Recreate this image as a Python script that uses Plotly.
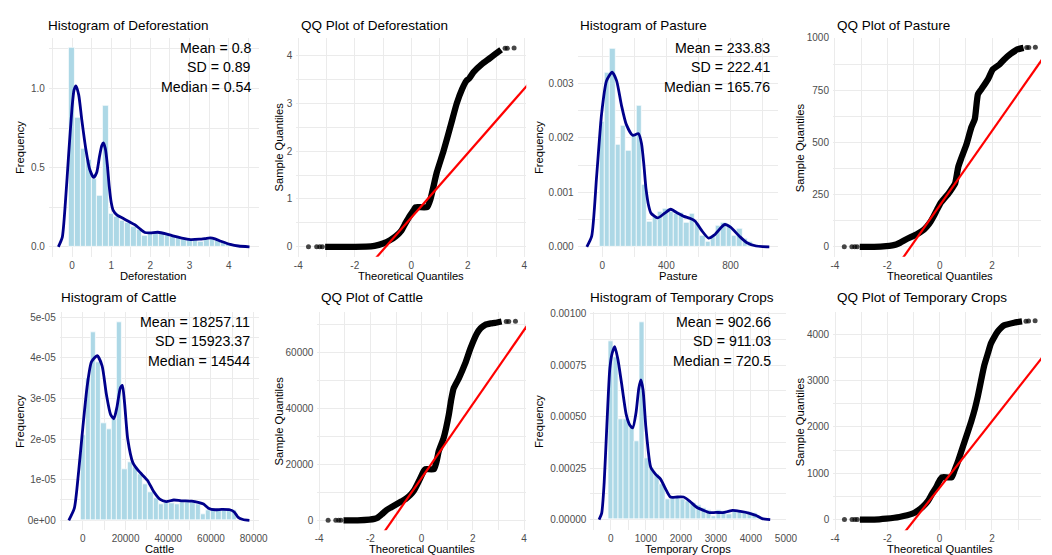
import numpy as np
import plotly.graph_objects as go

W, H = 1052, 555
FONT = "Liberation Sans, Arial, Helvetica, sans-serif"

# ---------------- data ----------------
variables = ["Deforestation", "Pasture", "Cattle", "Temporary Crops"]
stat_mean = ["0.8", "233.83", "18257.11", "902.66"]
stat_sd = ["0.89", "222.41", "15923.37", "911.03"]
stat_median = ["0.54", "165.76", "14544", "720.5"]

# histogram densities (30 bins, first bin centred on the minimum)
defo_bin_width = 0.143
defo_hist = [1.257, 0.818, 0.62, 0.55, 0.43, 0.32, 0.89, 0.21, 0.19, 0.165,
             0.15, 0.13, 0.11, 0.07, 0.09, 0.09, 0.085, 0.075, 0.065, 0.055,
             0.045, 0.045, 0.045, 0.03, 0.045, 0.06, 0.04, 0.03, 0.02, 0.01]
defo_dens_x = [-0.35, -0.25, -0.17, -0.085, 0.0, 0.05, 0.1, 0.17, 0.25, 0.35, 0.45,
               0.55, 0.63, 0.7, 0.76, 0.8, 0.85, 0.9, 0.95, 1.0, 1.05, 1.15, 1.3,
               1.45, 1.6, 1.75, 1.86, 2.0, 2.19, 2.4, 2.6, 2.8, 3.02, 3.25, 3.4,
               3.53, 3.65, 3.8, 4.04, 4.25, 4.53]
defo_dens_y = [0.0, 0.06, 0.28, 0.59, 0.88, 0.99, 1.017, 0.96, 0.8, 0.62, 0.49,
               0.438, 0.47, 0.57, 0.64, 0.656, 0.62, 0.52, 0.38, 0.28, 0.23, 0.2,
               0.18, 0.16, 0.14, 0.11, 0.09, 0.088, 0.092, 0.082, 0.067, 0.055,
               0.046, 0.048, 0.052, 0.056, 0.05, 0.035, 0.015, 0.005, 0.0]

past_bin_width = 32.93
past_hist = [0.0023, 0.0032, 0.00365, 0.00188, 0.00222, 0.00177, 0.00205, 0.0026,
             0.00115, 0.00047, 0.00055, 0.00065, 0.0007, 0.00065, 0.0006, 0.00062,
             0.00045, 0.0006, 0.00042, 0.0002, 0.0001, 0.0002, 0.00038, 0.00045,
             0.0004, 0.0002, 0.00033, 0.00015, 0.0001, 0.00004]
past_dens_x = [-96, -66, -35, -4, 27, 62, 90, 120, 150, 190, 226, 245, 260, 273, 290,
               304, 345, 390, 427, 470, 509, 550, 580, 620, 663, 700, 740, 765, 800,
               857, 900, 960, 1000, 1042]
past_dens_y = [0.0, 0.00019, 0.00129, 0.00244, 0.00305, 0.00321, 0.00305, 0.0026,
               0.00225, 0.00205, 0.00208, 0.0019, 0.0015, 0.00107, 0.00075, 0.00062,
               0.00053, 0.00062, 0.00069, 0.00062, 0.00056, 0.00052, 0.00047, 0.0003,
               0.00016, 0.00022, 0.00035, 0.00041, 0.00036, 0.00019, 0.00008,
               0.000015, 0.000003, 0.0]

catt_bin_width = 2448
catt_hist = [2.1e-05, 3.5e-05, 4.63e-05, 3.9e-05, 2.4e-05, 2.24e-05, 2.5e-05, 4.88e-05,
             1.26e-05, 1.42e-05, 1.3e-05, 1.14e-05, 0.9e-05, 0.7e-05, 0.55e-05, 0.4e-05,
             0.45e-05, 0.42e-05, 0.4e-05, 0.44e-05, 0.44e-05, 0.44e-05, 0.4e-05,
             0.16e-05, 0.26e-05, 0.26e-05, 0.26e-05, 0.26e-05, 0.26e-05, 0.26e-05]
catt_dens_x = [-6600, -4000, -2000, 0, 2000, 4000, 6700, 9000, 11000, 13000, 14500,
               16000, 17500, 18500, 19500, 21000, 23400, 26000, 30300, 33000, 36000,
               39000, 42600, 46000, 51000, 54000, 56500, 58800, 62000, 65000, 68800,
               71000, 72600, 75000, 78000]
catt_dens_y = [0.0, 0.3e-05, 1.2e-05, 2.3e-05, 3.3e-05, 3.9e-05, 4.05e-05, 3.8e-05,
               3.1e-05, 2.6e-05, 2.5e-05, 2.8e-05, 3.25e-05, 3.32e-05, 2.9e-05, 2.0e-05,
               1.42e-05, 1.22e-05, 0.98e-05, 0.72e-05, 0.52e-05, 0.46e-05, 0.5e-05,
               0.48e-05, 0.47e-05, 0.44e-05, 0.4e-05, 0.3e-05, 0.26e-05, 0.27e-05,
               0.26e-05, 0.2e-05, 0.08e-05, 0.02e-05, 0.0]

temp_bin_width = 147.2
temp_hist = [0.000867, 0.00079, 0.00049, 0.00049, 0.00045, 0.00038, 0.00096, 0.0003,
             0.00025, 0.00022, 0.00017, 0.0001, 0.00011, 0.00011, 0.0001, 0.00009,
             0.00008, 0.00007, 0.000055, 0.000045, 0.000016, 0.000045, 0.00004,
             0.000025, 0.000045, 0.00004, 0.00004, 0.000035, 0.00003, 0.00001]
temp_dens_x = [-336, -262, -190, -121, -28, 40, 112, 200, 300, 440, 540, 626, 720,
               800, 860, 920, 1000, 1140, 1280, 1420, 1560, 1700, 1900, 2075, 2250,
               2450, 2650, 2820, 3000, 3200, 3350, 3480, 3700, 3940, 4150, 4320, 4550]
temp_dens_y = [0.0, 0.00003, 0.00018, 0.00043, 0.000735, 0.00081, 0.00084, 0.00078,
               0.00067, 0.00051, 0.00046, 0.000446, 0.00052, 0.00064, 0.000679,
               0.00063, 0.00045, 0.000254, 0.00022, 0.000197, 0.00015, 0.00011,
               0.00011, 0.00011, 0.00009, 0.00006, 0.000045, 0.000034, 0.000035,
               0.000034, 0.00004, 0.000045, 0.00004, 0.000032, 0.00002, 0.000005, 0.0]

# QQ plots: dense body, sparse tail points, qqline (intercept, slope)
defo_qq_x = [-3.05, -2.5, -2.0, -1.6, -1.3, -1.0, -0.75, -0.55, -0.35, -0.2, -0.05,
             0.09, 0.15, 0.56, 0.68, 0.9, 1.14, 1.4, 1.61, 1.8, 1.95, 2.05, 2.2, 2.5,
             2.75, 2.95, 3.18]
defo_qq_y = [0.0, 0.0, 0.0, 0.003, 0.02, 0.07, 0.14, 0.22, 0.34, 0.5, 0.65, 0.77,
             0.83, 0.83, 1.0, 1.55, 2.0, 2.55, 3.0, 3.3, 3.47, 3.52, 3.65, 3.82,
             3.93, 4.02, 4.12]
defo_tail_x = [-3.64, -3.35, -3.24, -3.15, 3.32, 3.4, 3.64]
defo_tail_y = [0.0, 0.0, 0.0, 0.0, 4.15, 4.15, 4.16]
defo_line = (0.61, 0.674)

past_qq_x = [-3.05, -2.5, -2.04, -1.8, -1.66, -1.5, -1.29, -1.0, -0.79, -0.6, -0.48,
             -0.35, -0.23, -0.1, 0.03, 0.2, 0.34, 0.5, 0.59, 0.71, 0.84, 1.03, 1.21,
             1.34, 1.46, 1.59, 1.84, 2.03, 2.28, 2.46, 2.71, 2.96, 3.2]
past_qq_y = [0, 0, 3, 7, 11, 20, 35, 52, 66, 82, 98, 120, 146, 178, 209, 235, 256,
             285, 304, 383, 430, 494, 573, 612, 731, 755, 802, 850, 873, 897, 924,
             945, 953]
past_tail_x = [-3.64, -3.35, -3.24, -3.15, 3.32, 3.4, 3.65]
past_tail_y = [0, 0, 0, 0, 954, 955, 956]
past_line = (198, 179)

catt_qq_x = [-3.05, -2.5, -2.04, -1.85, -1.72, -1.55, -1.39, -1.2, -1.0, -0.8, -0.62,
             -0.45, -0.3, -0.1, 0.09, 0.15, 0.48, 0.58, 0.67, 0.86, 1.06, 1.15, 1.25,
             1.45, 1.7, 1.9, 2.15, 2.3, 2.48, 2.7, 2.86, 3.12]
catt_qq_y = [0, 0, 236, 500, 945, 2200, 3543, 4600, 5669, 6700, 7677, 9000, 10630,
             14170, 17716, 18300, 18300, 21000, 24800, 29500, 37800, 43000, 47240,
             50790, 56100, 61400, 66730, 68700, 69920, 70400, 70630, 71100]
catt_tail_x = [-3.65, -3.35, -3.24, -3.15, 3.3, 3.4, 3.66]
catt_tail_y = [0, 0, 0, 0, 71100, 71100, 71150]
catt_line = (15180, 13230)

temp_qq_x = [-3.05, -2.5, -2.04, -1.54, -1.04, -0.85, -0.66, -0.45, -0.29, -0.15,
             -0.04, 0.09, 0.46, 0.58, 0.71, 0.96, 1.21, 1.35, 1.46, 1.6, 1.71, 1.85,
             1.96, 2.1, 2.21, 2.35, 2.46, 2.84, 3.15]
temp_qq_y = [0, 0, 21, 57, 128, 190, 271, 400, 556, 680, 806, 913, 913, 1080, 1269,
             1697, 2125, 2400, 2660, 3050, 3337, 3600, 3800, 3950, 4050, 4140, 4192,
             4250, 4278]
temp_tail_x = [-3.64, -3.35, -3.24, -3.15, 3.3, 3.4, 3.65]
temp_tail_y = [0, 0, 0, 0, 4282, 4285, 4290]
temp_line = (689, 717)

# tick labels
defo_xticks = ["0", "1", "2", "3", "4"]
defo_yticks = ["0.0", "0.5", "1.0"]
past_xticks = ["0", "400", "800"]
past_yticks = ["0.000", "0.001", "0.002", "0.003"]
catt_xticks = ["0", "20000", "40000", "60000", "80000"]
catt_yticks = ["0e+00", "1e-05", "2e-05", "3e-05", "4e-05", "5e-05"]
temp_xticks = ["0", "1000", "2000", "3000", "4000", "5000"]
temp_yticks = ["0.00000", "0.00025", "0.00050", "0.00075", "0.00100"]
qq_xticks = ["-4", "-2", "0", "2", "4"]
defo_qq_yticks = ["0", "1", "2", "3", "4"]
past_qq_yticks = ["0", "250", "500", "750", "1000"]
catt_qq_yticks = ["0", "20000", "40000", "60000"]
temp_qq_yticks = ["0", "1000", "2000", "3000", "4000"]

# ---------------- layout geometry (pixels) ----------------
ROW_Y = [(33, 254), (310, 530)]
panels = [
    dict(kind="hist", var=0, row=0, xpx=(46.4, 259.5), xr=(-0.594, 4.774), yr=(-0.0626, 1.321),
         hist=defo_hist, bw=defo_bin_width, dx=defo_dens_x, dy=defo_dens_y,
         xt=defo_xticks, yt=defo_yticks, tx=44, sx=253),
    dict(kind="qq", var=0, row=0, xpx=(297.3, 530.3), xr=(-4.07, 4.07), yr=(-0.207, 4.373),
         qx=defo_qq_x, qy=defo_qq_y, tlx=defo_tail_x, tly=defo_tail_y, line=defo_line,
         xt=qq_xticks, yt=defo_qq_yticks, tx=300, yx=280),
    dict(kind="hist", var=1, row=0, xpx=(582.4, 785.9), xr=(-153.2, 1099), yr=(-0.000182, 0.003843),
         hist=past_hist, bw=past_bin_width, dx=past_dens_x, dy=past_dens_y,
         xt=past_xticks, yt=past_yticks, tx=583, sx=779),
    dict(kind="qq", var=1, row=0, xpx=(841.2, 1052), xr=(-4.07, 3.865), yr=(-47.5, 1001.4),
         qx=past_qq_x, qy=past_qq_y, tlx=past_tail_x, tly=past_tail_y, line=past_line,
         xt=qq_xticks, yt=past_qq_yticks, tx=843, yx=807.7, xc=949.3),
    dict(kind="hist", var=2, row=1, xpx=(57.5, 259.2), xr=(-10850, 82380), yr=(-0.244e-05, 5.122e-05),
         hist=catt_hist, bw=catt_bin_width, dx=catt_dens_x, dy=catt_dens_y,
         xt=catt_xticks, yt=catt_yticks, tx=57, sx=252),
    dict(kind="qq", var=2, row=1, xpx=(318.6, 530), xr=(-4.07, 4.07), yr=(-3544, 74420),
         qx=catt_qq_x, qy=catt_qq_y, tlx=catt_tail_x, tly=catt_tail_y, line=catt_line,
         xt=qq_xticks, yt=catt_qq_yticks, tx=320, yx=280),
    dict(kind="hist", var=3, row=1, xpx=(595.3, 793.7), xr=(-584, 5005), yr=(-0.0000515, 0.0010077),
         hist=temp_hist, bw=temp_bin_width, dx=temp_dens_x, dy=temp_dens_y,
         xt=temp_xticks, yt=temp_yticks, tx=593, sx=780),
    dict(kind="qq", var=3, row=1, xpx=(841.4, 1052), xr=(-4.07, 3.875), yr=(-229, 4477),
         qx=temp_qq_x, qy=temp_qq_y, tlx=temp_tail_x, tly=temp_tail_y, line=temp_line,
         xt=qq_xticks, yt=temp_qq_yticks, tx=843, yx=807.7, xc=949.3),
]
HIST_YX = [17, 543]
TITLE_Y = [20.2, 295.5]
STAT_Y = [(43, 63, 82.5), (319.7, 339.3, 358.8)]
XTITLE_Y = [273.5, 548.5]

GRID = "#EBEBEB"
TICKFONT = dict(family=FONT, size=10, color="#4D4D4D")


def minor_vals(vals):
    d = vals[1] - vals[0]
    return [vals[0] - d / 2] + [v + d / 2 for v in vals]


fig = go.Figure()
annotations = []
layout_axes = {}

for i, p in enumerate(panels, start=1):
    xa = "x" if i == 1 else f"x{i}"
    ya = "y" if i == 1 else f"y{i}"
    t, b = ROW_Y[p["row"]]
    xdom = [p["xpx"][0] / W, min(1.0, p["xpx"][1] / W)]
    ydom = [1 - b / H, 1 - t / H]
    xtv = [float(s) for s in p["xt"]]
    ytv = [float(s) for s in p["yt"]]

    if p["kind"] == "hist":
        centers = np.arange(len(p["hist"])) * p["bw"]
        fig.add_trace(go.Bar(x=centers, y=p["hist"], width=p["bw"], xaxis=xa, yaxis=ya,
                             marker=dict(color="#ADD8E6", line=dict(color="white", width=0.7)),
                             showlegend=False, hoverinfo="skip"))
        fig.add_trace(go.Scatter(x=p["dx"], y=p["dy"], mode="lines", xaxis=xa, yaxis=ya,
                                 line=dict(color="#00008B", width=2.8, shape="spline", smoothing=0.6),
                                 showlegend=False, hoverinfo="skip"))
        title = f"Histogram of {variables[p['var']]}"
        xtitle = variables[p["var"]]
        ytitle = "Frequency"
        yx = HIST_YX[0] if p["xpx"][0] < 300 else HIST_YX[1]
        for k, txt in enumerate([f"Mean = {stat_mean[p['var']]}",
                                 f"SD = {stat_sd[p['var']]}",
                                 f"Median = {stat_median[p['var']]}"]):
            annotations.append(dict(x=p["sx"] / W, y=1 - STAT_Y[p["row"]][k] / H, xref="paper",
                                    yref="paper", text=txt, showarrow=False, xanchor="right",
                                    yanchor="middle", font=dict(family=FONT, size=14.2, color="black")))
    else:
        fig.add_trace(go.Scatter(x=p["qx"], y=p["qy"], mode="lines", xaxis=xa, yaxis=ya,
                                 line=dict(color="black", width=6.3, shape="spline", smoothing=0.5),
                                 showlegend=False, hoverinfo="skip"))
        fig.add_trace(go.Scatter(x=p["tlx"], y=p["tly"], mode="markers", xaxis=xa, yaxis=ya,
                                 marker=dict(color="rgba(0,0,0,0.72)", size=5),
                                 showlegend=False, hoverinfo="skip"))
        a, s = p["line"]
        lx = [-4.5, 4.5]
        fig.add_trace(go.Scatter(x=lx, y=[a + s * v for v in lx], mode="lines", xaxis=xa, yaxis=ya,
                                 line=dict(color="#FF0000", width=2.2),
                                 showlegend=False, hoverinfo="skip"))
        title = f"QQ Plot of {variables[p['var']]}"
        xtitle = "Theoretical Quantiles"
        ytitle = "Sample Quantiles"
        yx = p["yx"]

    common = dict(showline=False, zeroline=False, ticks="", showgrid=True,
                  gridcolor=GRID, gridwidth=1.1, tickfont=TICKFONT, fixedrange=True)
    layout_axes["xaxis" if i == 1 else f"xaxis{i}"] = dict(
        domain=xdom, range=list(p["xr"]), anchor=ya, tickmode="array",
        tickvals=xtv, ticktext=p["xt"], ticklabelstandoff=1,
        minor=dict(tickmode="array", tickvals=minor_vals(xtv), showgrid=True,
                   gridcolor=GRID, gridwidth=0.55), **common)
    layout_axes["yaxis" if i == 1 else f"yaxis{i}"] = dict(
        domain=ydom, range=list(p["yr"]), anchor=xa, tickmode="array",
        tickvals=ytv, ticktext=p["yt"], ticklabelstandoff=3,
        minor=dict(tickmode="array", tickvals=minor_vals(ytv), showgrid=True,
                   gridcolor=GRID, gridwidth=0.55), **common)

    annotations.append(dict(x=p["tx"] / W, y=1 - TITLE_Y[p["row"]] / H, xref="paper", yref="paper",
                            text=title, showarrow=False, xanchor="left", yanchor="middle",
                            font=dict(family=FONT, size=13.5, color="black")))
    xc = p.get("xc", (p["xpx"][0] + p["xpx"][1]) / 2)
    annotations.append(dict(x=xc / W, y=1 - XTITLE_Y[p["row"]] / H, xref="paper", yref="paper",
                            text=xtitle, showarrow=False, xanchor="center", yanchor="middle",
                            font=dict(family=FONT, size=11.2, color="black")))
    annotations.append(dict(x=yx / W, y=1 - (t + b) / 2 / H, xref="paper", yref="paper",
                            text=ytitle, showarrow=False, xanchor="center", yanchor="middle",
                            textangle=-90, font=dict(family=FONT, size=11.2, color="black")))

fig.update_layout(
    width=W, height=H, margin=dict(l=0, r=0, t=0, b=0),
    paper_bgcolor="white", plot_bgcolor="white",
    bargap=0, barmode="overlay", showlegend=False,
    font=dict(family=FONT), annotations=annotations,
    **layout_axes,
)

fig.write_html(
    "out.html",
    config={"displayModeBar": False},
    post_script="document.body.style.margin='0';document.body.style.overflow='hidden';",
)
